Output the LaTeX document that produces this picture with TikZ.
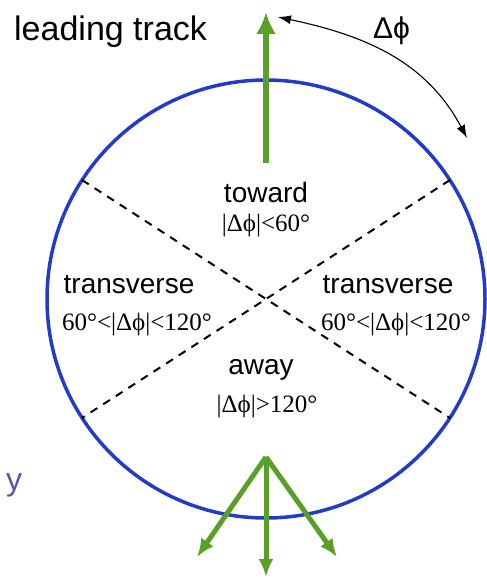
\documentclass[tikz,border=0pt]{standalone}
\usepackage{fontspec}
\setmainfont{Liberation Sans}
\newfontfamily\cutfont{Liberation Serif}
\usetikzlibrary{arrows.meta}
\definecolor{ringblue}{RGB}{35,60,200}
\definecolor{trackgreen}{RGB}{90,160,40}
\definecolor{axisviolet}{RGB}{95,85,165}

\begin{document}
\begin{tikzpicture}[x=1pt, y=-1pt, >={Latex[length=13pt,width=9pt]},
    line join=round, line cap=round,
    region/.style={font=\fontsize{28}{30}\selectfont, inner sep=0pt, anchor=base},
    cut/.style={font=\cutfont\fontsize{25}{27}\selectfont, inner sep=0pt, anchor=base},
    track/.style={draw=trackgreen, line width=6pt, line cap=butt,
                  -{Latex[length=22pt,width=20pt]}},
    jet/.style={draw=trackgreen, line width=5pt, line cap=butt,
                -{Latex[length=18pt,width=15pt]}}]
  \useasboundingbox (0,0) rectangle (487,578);

  % Circle
  \coordinate (O) at (266,299);
  \draw[ringblue, line width=3.5pt] (O) circle (219pt);

  % Dividing lines
  \coordinate (ul) at (82,180);
  \coordinate (ur) at (450,180);
  \coordinate (ll) at (82,418);
  \coordinate (lr) at (450,418);
  \draw[line width=2pt, dash pattern=on 8pt off 7pt, line cap=butt] (ul) -- (lr);
  \draw[line width=2pt, dash pattern=on 8pt off 7pt, line cap=butt] (ur) -- (ll);

  % Leading track
  \coordinate (lead0) at (266,163);
  \coordinate (lead1) at (266,12);
  \draw[track] (lead0) -- (lead1);

  % Away side tracks
  \coordinate (vtx) at (266,457);
  \coordinate (awayL) at (197,557);
  \coordinate (awayM) at (266,577);
  \coordinate (awayR) at (337,557);
  \draw[jet] (vtx) -- (awayL);
  \draw[jet] (vtx) -- (awayM);
  \draw[jet] (vtx) -- (awayR);

  % Delta phi arc
  \coordinate (phiA) at (278,17);
  \coordinate (phiB) at (467,138);
  \draw[<->, line width=1.1pt] (phiA) to[out=-12, in=118] (phiB);

  % Labels
  \node[region, anchor=base west, font=\fontsize{34}{36}\selectfont] (title) at (14,41) {leading track};
  \node[region, anchor=base west, font=\fontsize{30}{32}\selectfont] (dphi) at (373,39) {Δϕ};
  \node[region] (toward) at (266,202) {toward};
  \node[cut] (towardcut) at (266,231) {|Δϕ|<60°};
  \node[region] (transL) at (129,293) {transverse};
  \node[cut] (transLcut) at (137,330) {60°<|Δϕ|<120°};
  \node[region] (transR) at (388,293) {transverse};
  \node[cut] (transRcut) at (396,330) {60°<|Δϕ|<120°};
  \node[region] (away) at (261,374) {away};
  \node[cut] (awaycut) at (267,412) {|Δϕ|>120°};
  \node[region, anchor=base west, text=axisviolet, font=\fontsize{32}{34}\selectfont] (yaxis) at (6,490) {y};
\end{tikzpicture}
\end{document}
